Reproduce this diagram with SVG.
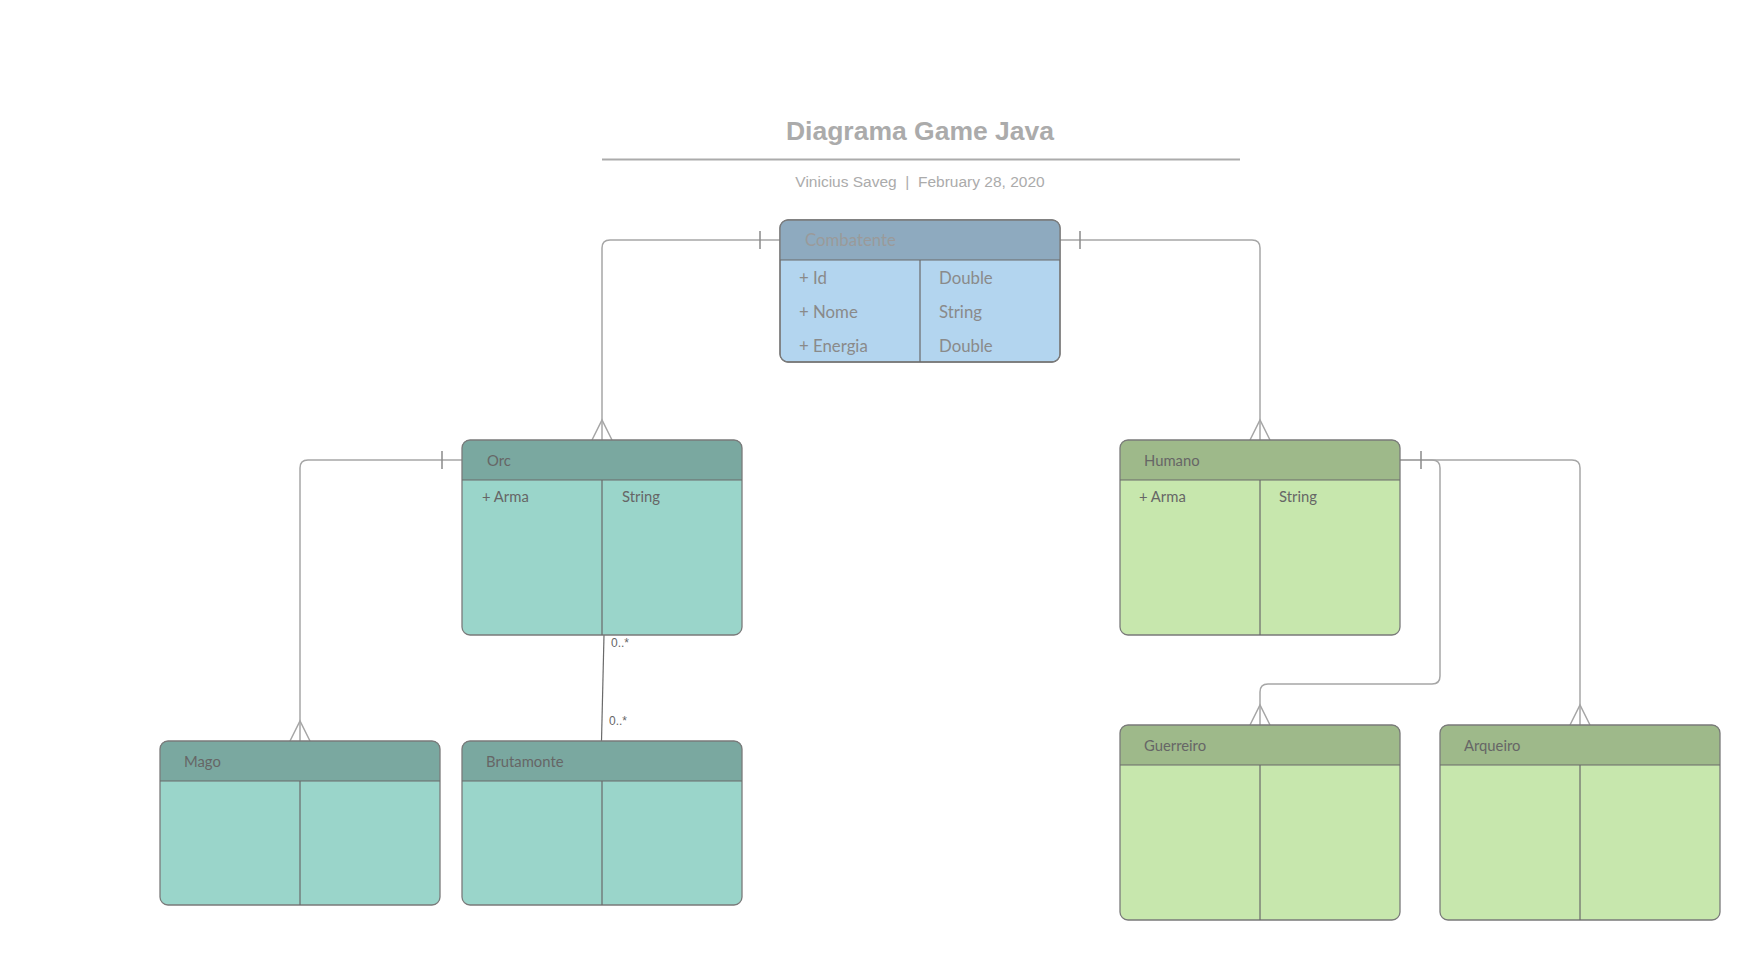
<svg xmlns="http://www.w3.org/2000/svg" width="1760" height="961" viewBox="0 0 1760 961">
<style>
.bg{fill:#ffffff}
.title{font-family:"Liberation Sans",Arial,sans-serif;font-size:26.5px;font-weight:bold;fill:#ababab}
.sub{font-family:"Liberation Sans",Arial,sans-serif;font-size:15.5px;fill:#ababab}
.box{stroke:#7a7a7a;stroke-width:1.3}
.sep{stroke:#6a6a6a;stroke-width:1.2;fill:none}
.t{font-family:Lato,"Open Sans",sans-serif;font-size:14.8px;fill:#666666}
.tc{font-family:Lato,"Open Sans",sans-serif;font-size:16.8px;fill:#8a8a8a}
.tch{font-family:Lato,"Open Sans",sans-serif;font-size:16.8px;fill:#9a9a9a}
.blue-h{fill:#8eaabf}.blue-b{fill:#b3d5ef}
.teal-h{fill:#7aa8a0}.teal-b{fill:#9ad5ca}
.green-h{fill:#9eb98a}.green-b{fill:#c7e7ad}
.conn{fill:none;stroke:#a6a6a6;stroke-width:1.5}
.tick{fill:none;stroke:#8a8a8a;stroke-width:1.5}
.lbl{font-family:"Liberation Sans",Arial,sans-serif;font-size:12px;fill:#666666}
</style>
<rect class="bg" x="0" y="0" width="1760" height="961"/>
<g id="header">
<text class="title" x="920" y="140" text-anchor="middle">Diagrama Game Java</text>
<line x1="602" y1="159.5" x2="1240" y2="159.5" stroke="#ababab" stroke-width="2"/>
<text class="sub" x="920" y="187" text-anchor="middle" xml:space="preserve">Vinicius Saveg  |  February 28, 2020</text>
</g>
<g id="connectors">
<path class="conn" d="M780 240 H610 Q602 240 602 248 V440"/>
<path class="tick" d="M760 231 V249"/>
<path class="conn" d="M592 440 L602 420 L612 440"/>
<path class="conn" d="M1060 240 H1252 Q1260 240 1260 248 V440"/>
<path class="tick" d="M1080 231 V249"/>
<path class="conn" d="M1250 440 L1260 420 L1270 440"/>
<path class="conn" d="M462 460 H308 Q300 460 300 468 V741"/>
<path class="tick" d="M442 451 V469"/>
<path class="conn" d="M290 741 L300 721 L310 741"/>
<path class="sep" d="M604 635 L601.5 741"/>
<text class="lbl" x="611" y="647">0..*</text>
<text class="lbl" x="609" y="725">0..*</text>
<path class="conn" d="M1400 460 H1432 Q1440 460 1440 468 V676 Q1440 684 1432 684 H1268 Q1260 684 1260 692 V725"/>
<path class="conn" d="M1400 460 H1572 Q1580 460 1580 468 V725"/>
<path class="tick" d="M1421 451 V469"/>
<path class="conn" d="M1250 725 L1260 705 L1270 725"/>
<path class="conn" d="M1570 725 L1580 705 L1590 725"/>
</g>
<g id="combatente">
<rect class="box blue-b" x="780" y="220" width="280" height="142" rx="8"/>
<path class="blue-h" d="M788 220 H1052 Q1060 220 1060 228 V260 H780 V228 Q780 220 788 220 Z"/>
<rect class="box" fill="none" x="780" y="220" width="280" height="142" rx="8"/>
<path class="sep" d="M780 260 H1060 M920 260 V362"/>
<text class="tch" x="805" y="246">Combatente</text>
<text class="tc" x="799" y="284">+ Id</text>
<text class="tc" x="939" y="284">Double</text>
<text class="tc" x="799" y="318">+ Nome</text>
<text class="tc" x="939" y="318">String</text>
<text class="tc" x="799" y="352">+ Energia</text>
<text class="tc" x="939" y="352">Double</text>
</g>
<g id="orc">
<rect class="teal-b" x="462" y="440" width="280" height="195" rx="8"/>
<path class="teal-h" d="M470 440 H734 Q742 440 742 448 V480 H462 V448 Q462 440 470 440 Z"/>
<rect class="box" fill="none" x="462" y="440" width="280" height="195" rx="8"/>
<path class="sep" d="M462 480 H742 M602 480 V635"/>
<text class="t" x="487" y="466">Orc</text>
<text class="t" x="482" y="502">+ Arma</text>
<text class="t" x="622" y="502">String</text>
</g>
<g id="humano">
<rect class="green-b" x="1120" y="440" width="280" height="195" rx="8"/>
<path class="green-h" d="M1128 440 H1392 Q1400 440 1400 448 V480 H1120 V448 Q1120 440 1128 440 Z"/>
<rect class="box" fill="none" x="1120" y="440" width="280" height="195" rx="8"/>
<path class="sep" d="M1120 480 H1400 M1260 480 V635"/>
<text class="t" x="1144" y="466">Humano</text>
<text class="t" x="1139" y="502">+ Arma</text>
<text class="t" x="1279" y="502">String</text>
</g>
<g id="mago">
<rect class="teal-b" x="160" y="741" width="280" height="164" rx="8"/>
<path class="teal-h" d="M168 741 H432 Q440 741 440 749 V781 H160 V749 Q160 741 168 741 Z"/>
<rect class="box" fill="none" x="160" y="741" width="280" height="164" rx="8"/>
<path class="sep" d="M160 781 H440 M300 781 V905"/>
<text class="t" x="184" y="767">Mago</text>
</g>
<g id="brutamonte">
<rect class="teal-b" x="462" y="741" width="280" height="164" rx="8"/>
<path class="teal-h" d="M470 741 H734 Q742 741 742 749 V781 H462 V749 Q462 741 470 741 Z"/>
<rect class="box" fill="none" x="462" y="741" width="280" height="164" rx="8"/>
<path class="sep" d="M462 781 H742 M602 781 V905"/>
<text class="t" x="486" y="767">Brutamonte</text>
</g>
<g id="guerreiro">
<rect class="green-b" x="1120" y="725" width="280" height="195" rx="8"/>
<path class="green-h" d="M1128 725 H1392 Q1400 725 1400 733 V765 H1120 V733 Q1120 725 1128 725 Z"/>
<rect class="box" fill="none" x="1120" y="725" width="280" height="195" rx="8"/>
<path class="sep" d="M1120 765 H1400 M1260 765 V920"/>
<text class="t" x="1144" y="751">Guerreiro</text>
</g>
<g id="arqueiro">
<rect class="green-b" x="1440" y="725" width="280" height="195" rx="8"/>
<path class="green-h" d="M1448 725 H1712 Q1720 725 1720 733 V765 H1440 V733 Q1440 725 1448 725 Z"/>
<rect class="box" fill="none" x="1440" y="725" width="280" height="195" rx="8"/>
<path class="sep" d="M1440 765 H1720 M1580 765 V920"/>
<text class="t" x="1464" y="751">Arqueiro</text>
</g>
</svg>
